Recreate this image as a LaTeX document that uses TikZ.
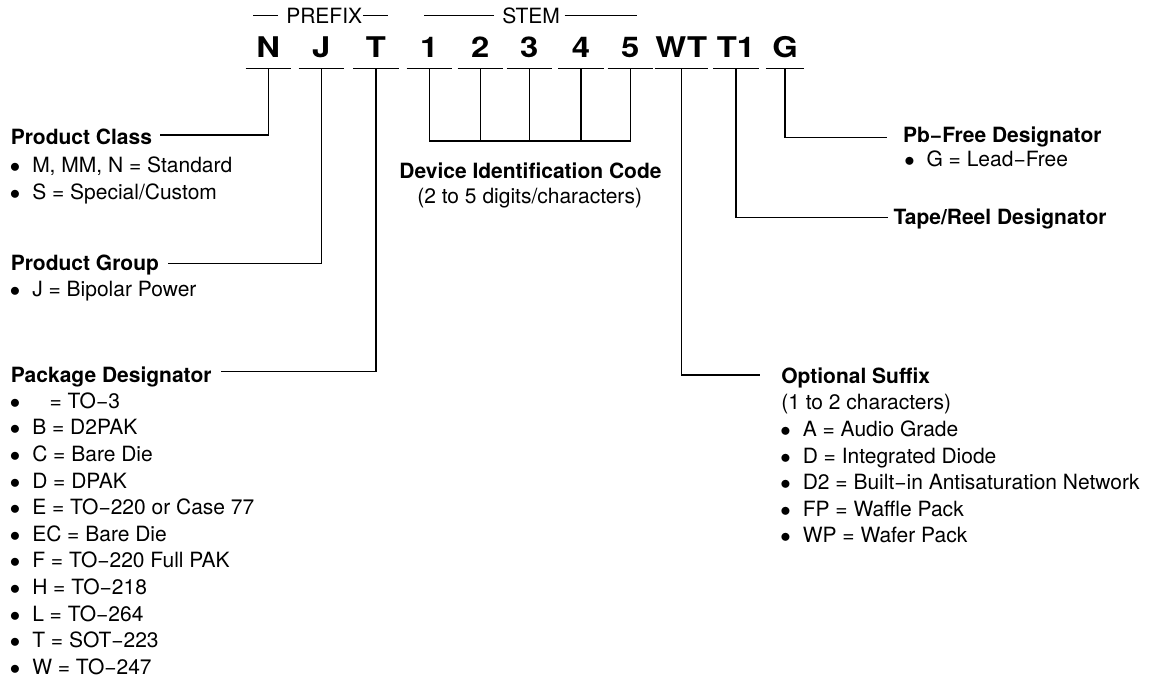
\documentclass[tikz,border=0pt]{standalone}
\usepackage{fontspec}
\setmainfont{TeX Gyre Heros}
\newfontfamily\slotfont[FakeStretch=1.15]{TeX Gyre Heros}

\newcommand{\itm}[1]{\makebox[21.5pt][l]{\hspace*{-0.8pt}$\bullet$}#1}
\newcommand{\codelist}[1]{\begin{tabular}[t]{@{}l@{}}#1\end{tabular}}

\begin{document}
\begin{tikzpicture}[x=1pt, y=1pt, line width=1.5pt,
	every node/.style={inner sep=0pt, font=\fontsize{21}{26.6}\selectfont},
	slot/.style={font=\fontsize{28.5}{30}\selectfont\slotfont\bfseries, minimum width=44pt, text depth=10.4pt, anchor=base},
	head/.style={font=\fontsize{21}{26.6}\selectfont\bfseries, anchor=base west},
	lst/.style={anchor=base west},
	grouprule/.style={line width=1.2pt}]
	\useasboundingbox (0,0) rectangle (1152,680);
	% part number characters
	\foreach \nm/\ch/\x in {N/N/268.3, J/J/321.3, T/T/376, d1/1/429.3, d2/2/480.3, d3/3/529.3, d4/4/581, d5/5/630.3, WT/WT/681.3, T1/T1/736}
		\node[slot] (\nm) at (\x,622.7) {\ch};
	\node[slot, minimum width=36.7pt] (G) at (785,622.7) {G};
	\foreach \nm in {N,J,T,d1,d2,d3,d4,d5,WT,T1,G} {\draw (\nm.south west) -- (\nm.south east);}
	% prefix and stem
	\node[anchor=base] (prefix) at (324.2,656) {PREFIX};
	\draw[grouprule] ([xshift=-7.4pt,yshift=8.3pt]prefix.base west) -- ++(-25,0);
	\draw[grouprule] ([yshift=8.3pt]prefix.base east) -- ++(25,0);
	\node[anchor=base] (stem) at (531.1,656) {STEM};
	\draw[grouprule] ([xshift=-7.4pt,yshift=8.3pt]stem.base west) -- ++(-70.6,0);
	\draw[grouprule] ([xshift=4pt,yshift=8.3pt]stem.base east) -- ++(72,0);
	% left side
	\node[head] (pclass) at (10,535) {Product Class};
	\node[lst] (pclass-list) at (10,507.3) {\codelist{\itm{M, MM, N = Standard}\\ \itm{S = Special/Custom}}};
	\draw (N.south) |- ([xshift=7pt,yshift=10pt]pclass.base east);
	\node[head] (pgroup) at (10,409) {Product Group};
	\node[lst] (pgroup-list) at (10,383.3) {\codelist{\itm{J = Bipolar Power}}};
	\draw (J.south) |- ([xshift=8pt,yshift=7.7pt]pgroup.base east);
	\node[head] (pkg) at (10,297.7) {Package Designator};
	\node[lst] (pkg-list) at (10,271.7) {\codelist{\itm{\hspace*{11.5pt} = TO−3}\\ \itm{B = D2PAK}\\ \itm{C = Bare Die}\\ \itm{D = DPAK}\\
		\itm{E = TO−220 or Case 77}\\ \itm{EC = Bare Die}\\ \itm{F = TO−220 Full PAK}\\ \itm{H = TO−218}\\ \itm{L = TO−264}\\
		\itm{T = SOT−223}\\ \itm{W = TO−247}}};
	\draw (T.south) |- ([xshift=8.4pt,yshift=10.6pt]pkg.base east);
	% stem bracket
	\coordinate (stembar) at (530,539);
	\draw (d1.south) |- (d5.south |- stembar) -- (d5.south);
	\foreach \nm in {d2,d3,d4} {\draw (\nm.south) -- (\nm.south |- stembar);}
	\node[head, anchor=base] (devcode) at (530.5,501) {Device Identification Code};
	\node[anchor=base] (devrange) at (529.7,476) {(2 to 5 digits/characters)};
	% right side
	\node[head] (pbfree) at (902.4,537.3) {Pb−Free Designator};
	\node[lst] (pbfree-list) at (904.3,513.3) {\codelist{\itm{G = Lead−Free}}};
	\draw (G.south) |- ([xshift=-15.7pt,yshift=5.4pt]pbfree.base west);
	\node[head] (tape) at (892.8,455.7) {Tape/Reel Designator};
	\draw (T1.south) |- ([xshift=-4.5pt,yshift=7pt]tape.base west);
	\node[head] (optsuf) at (780.5,296.7) {Optional Suffix};
	\node[lst] (optsuf-list) at (780.5,270) {\codelist{(1 to 2 characters)\\ \itm{A = Audio Grade}\\ \itm{D = Integrated Diode}\\
		\itm{D2 = Built−in Antisaturation Network}\\ \itm{FP = Waffle Pack}\\ \itm{WP = Wafer Pack}}};
	\draw (WT.south) |- ([xshift=-20.5pt,yshift=8.3pt]optsuf.base west);
\end{tikzpicture}
\end{document}
